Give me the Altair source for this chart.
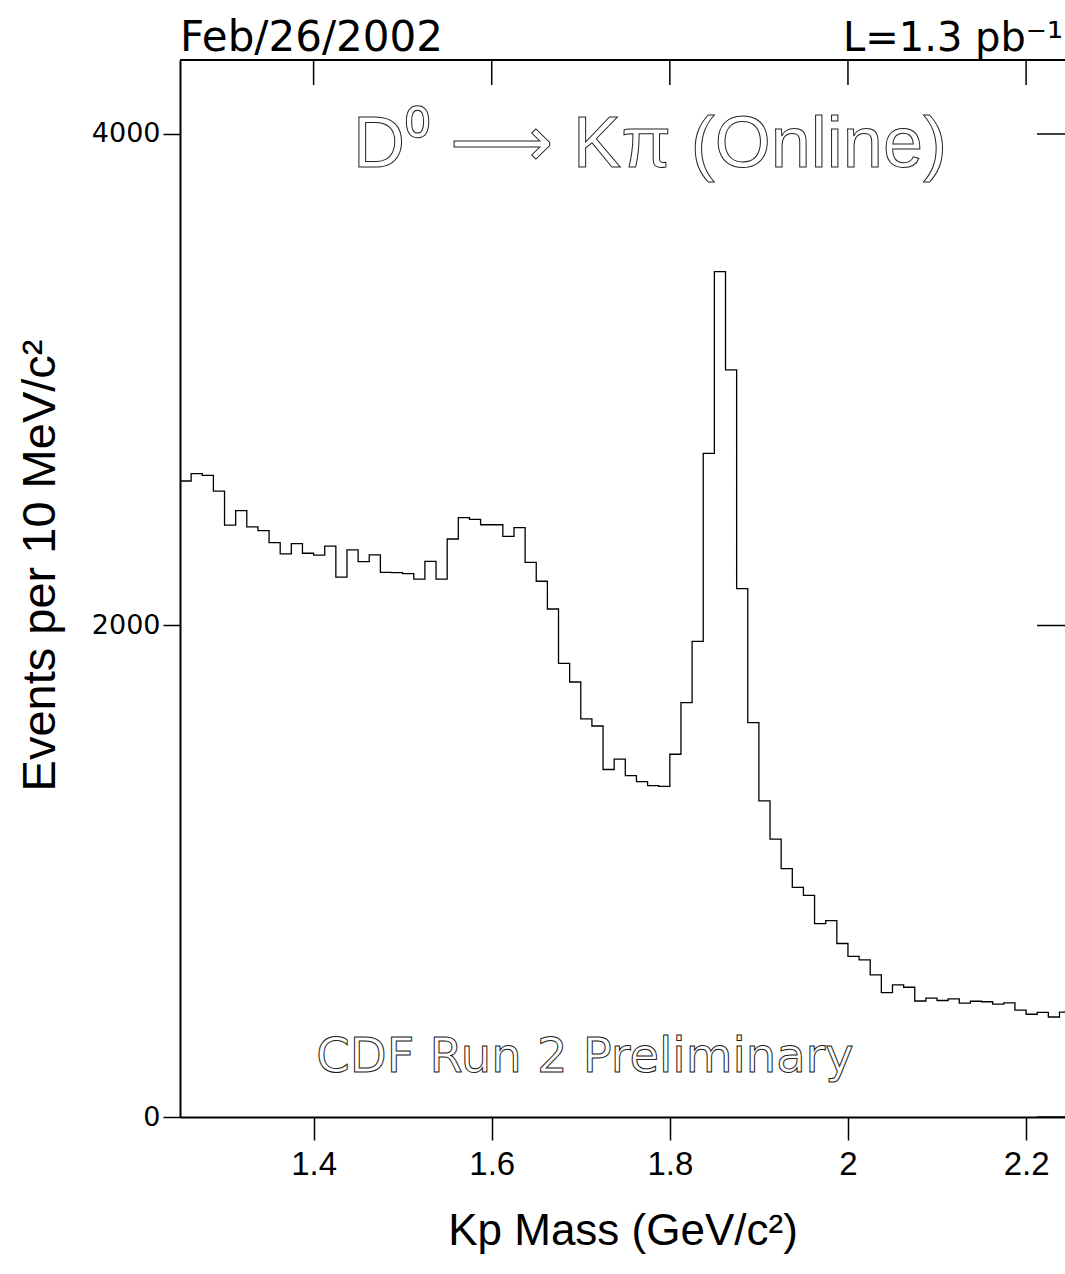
import altair as alt
import pandas as pd

# ---- data ----
BIN_START = 1.25
BIN_WIDTH = 0.0125
counts = [2588, 2618, 2611, 2547, 2408, 2467, 2401, 2386, 2337, 2291,
          2333, 2294, 2286, 2323, 2197, 2308, 2260, 2287, 2216, 2215,
          2211, 2189, 2261, 2189, 2352, 2439, 2432, 2410, 2410, 2363,
          2398, 2257, 2180, 2067, 1846, 1770, 1620, 1591, 1414, 1456,
          1389, 1365, 1348, 1345, 1476, 1686, 1935, 2700, 3440, 3040,
          2150, 1605, 1286, 1131, 1011, 934, 902, 787, 799, 706,
          654, 639, 578, 506, 538, 528, 472, 484, 474, 481,
          463, 471, 469, 459, 464, 435, 418, 426, 407, 427]
x_ticks = [1.4, 1.6, 1.8, 2.0, 2.2]
y_ticks = [0, 2000, 4000]

edges = [BIN_START + i * BIN_WIDTH for i in range(len(counts) + 1)]
hist = pd.DataFrame({"edge": edges, "count": counts + [counts[-1]]})

W, H = 885, 1057
NARROW = "Liberation Sans Narrow, Arial Narrow, Liberation Sans, sans-serif"

xscale = alt.Scale(domain=[1.25, 2.2437], nice=False, zero=False)
yscale = alt.Scale(domain=[0, 4301], nice=False)

xaxis = alt.Axis(values=x_ticks, format="~g", grid=False, tickSize=23, tickWidth=1.5,
                 domainWidth=2, domainColor="black", tickColor="black",
                 labelFont=NARROW, labelFontSize=33, labelColor="black", labelPadding=8,
                 title="Kp Mass (GeV/c²)", titleFont=NARROW, titleFontSize=44,
                 titleFontWeight="normal", titleColor="black", titlePadding=28)
yaxis = alt.Axis(values=y_ticks, format="d", grid=False, tickSize=17, tickWidth=1.5,
                 domainWidth=2, domainColor="black", tickColor="black",
                 labelFont="DejaVu Sans", labelFontSize=27, labelColor="black", labelPadding=3,
                 title="Events per 10 MeV/c²", titleFont=NARROW, titleFontSize=47,
                 titleFontWeight="normal", titleColor="black",
                 titleX=-140, titleY=505, titleAngle=270, titleAlign="center",
                 titleBaseline="middle")

X = alt.X("edge:Q", scale=xscale, axis=xaxis)
Y = alt.Y("count:Q", scale=yscale, axis=yaxis)

line = alt.Chart(hist).mark_line(interpolate="step-after", color="black",
                                 strokeWidth=1.3, clip=True).encode(x=X, y=Y)

top_border = alt.Chart(pd.DataFrame({"edge": [1.25]})).mark_rule(
    color="black", strokeWidth=2).encode(x=alt.value(0), x2=alt.value(W + 5), y=alt.value(0))

top_ticks = alt.Chart(pd.DataFrame({"edge": x_ticks})).mark_rule(
    color="black", strokeWidth=1.5).encode(x=X, y=alt.value(0), y2=alt.value(25))

right_ticks = alt.Chart(pd.DataFrame({"count": y_ticks})).mark_rule(
    color="black", strokeWidth=1.5).encode(y=Y, x=alt.value(W - 28), x2=alt.value(W + 5))

def label(text, x, y, size, font, align="center", hollow=False):
    kw = dict(text=text, align=align, baseline="alphabetic", fontSize=size, font=font,
              clip=False)
    if hollow:
        kw.update(fill="white", stroke="#222222", strokeWidth=1.0)
    else:
        kw.update(color="black")
    return alt.Chart(pd.DataFrame({"edge": [0]})).mark_text(**kw).encode(
        x=alt.value(x), y=alt.value(y))

title = label("D⁰ ⟶ Kπ (Online)", 470, 107, 72, NARROW, hollow=True)
prelim = label("CDF Run 2 Preliminary", 405, 1012, 48, "DejaVu Sans", hollow=True)
date = label("Feb/26/2002", 0, -9, 42, "DejaVu Sans", align="left")
lumi = label("L=1.3 pb⁻¹", W - 2, -9, 40, "DejaVu Sans", align="right")

chart = alt.layer(line, top_border, top_ticks, right_ticks, title, prelim, date, lumi).properties(
    width=W, height=H,
    padding={"left": 180, "top": 60, "right": 0, "bottom": 157},
    autosize=alt.AutoSizeParams(type="none"),
).configure_view(stroke=None).configure(background="white")

chart.save("out.html", embed_options={"renderer": "svg", "actions": False})
